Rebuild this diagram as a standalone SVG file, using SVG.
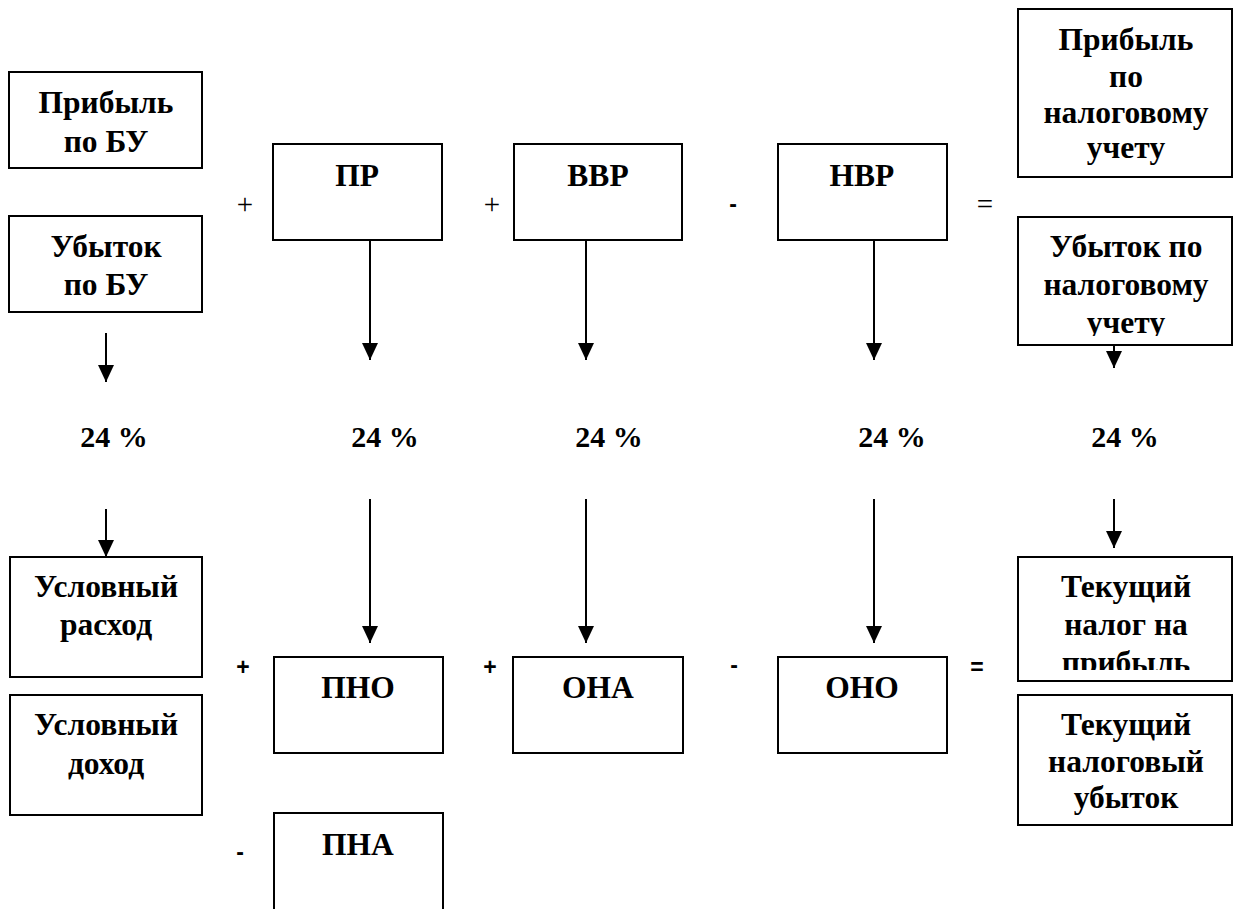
<svg xmlns="http://www.w3.org/2000/svg" width="1234" height="909" viewBox="0 0 1234 909">
<style>
.box{fill:#fff;stroke:#000;stroke-width:2}
.t{font-family:'Liberation Serif','Times New Roman','DejaVu Serif',serif;font-weight:700;font-size:31.5px;text-anchor:middle;fill:#000}
.p{font-size:30px}
.op{font-family:'Liberation Serif','Times New Roman','DejaVu Serif',serif;font-size:29px;text-anchor:middle;fill:#000}
.ops{font-family:'Liberation Sans',Arial,sans-serif;font-weight:700;font-size:23px;text-anchor:middle;fill:#000}
.c{stroke:#000;stroke-width:2;fill:none;marker-end:url(#ah)}
</style>
<defs>
<marker id="ah" markerUnits="userSpaceOnUse" markerWidth="17" markerHeight="16" refX="17" refY="8" orient="auto" viewBox="0 0 17 16">
<path d="M0,0 L17,8 L0,16 Z" fill="#000"/>
</marker>
<clipPath id="clipU"><rect x="1018" y="217" width="214" height="119"/></clipPath>
<clipPath id="clipT"><rect x="1018" y="557" width="214" height="113"/></clipPath>
</defs>
<rect width="1234" height="909" fill="#fff"/>

<g id="pribyl-bu"><rect class="box" x="9" y="72" width="193" height="96"/><text class="t" x="106" y="113">Прибыль</text><text class="t" x="106" y="152">по БУ</text></g>
<g id="ubytok-bu"><rect class="box" x="9" y="216" width="193" height="96"/><text class="t" x="106" y="257">Убыток</text><text class="t" x="106" y="295">по БУ</text></g>
<g id="pr"><rect class="box" x="273" y="144" width="169" height="96"/><text class="t" x="357" y="186">ПР</text></g>
<g id="vvr"><rect class="box" x="514" y="144" width="168" height="96"/><text class="t" x="598" y="186">ВВР</text></g>
<g id="nvr"><rect class="box" x="778" y="144" width="169" height="96"/><text class="t" x="862" y="186">НВР</text></g>
<g id="pribyl-nu"><rect class="box" x="1018" y="9" width="214" height="168"/><text class="t" x="1126" y="50">Прибыль</text><text class="t" x="1126" y="87">по</text><text class="t" x="1126" y="123">налоговому</text><text class="t" x="1126" y="158">учету</text></g>
<g id="ubytok-nu"><rect class="box" x="1018" y="217" width="214" height="128"/><g clip-path="url(#clipU)"><text class="t" x="1126" y="257">Убыток по</text><text class="t" x="1126" y="295">налоговому</text><text class="t" x="1126" y="333">учету</text></g></g>

<g id="ops-top"><text class="op" x="245" y="214">+</text><text class="op" x="492" y="214">+</text><text class="ops" x="733" y="212">-</text><text class="op" x="985" y="214">=</text></g>

<g id="rates"><text class="t p" x="114" y="447">24 %</text><text class="t p" x="385" y="447">24 %</text><text class="t p" x="609" y="447">24 %</text><text class="t p" x="892" y="447">24 %</text><text class="t p" x="1125" y="447">24 %</text></g>

<g id="usl-rashod"><rect class="box" x="10" y="557" width="192" height="120"/><text class="t" x="106" y="597">Условный</text><text class="t" x="106" y="635">расход</text></g>
<g id="usl-dohod"><rect class="box" x="10" y="695" width="192" height="120"/><text class="t" x="106" y="735">Условный</text><text class="t" x="106" y="774">доход</text></g>
<g id="pno"><rect class="box" x="274" y="657" width="169" height="96"/><text class="t" x="358" y="698">ПНО</text></g>
<g id="ona"><rect class="box" x="513" y="657" width="170" height="96"/><text class="t" x="598" y="698">ОНА</text></g>
<g id="ono"><rect class="box" x="778" y="657" width="169" height="96"/><text class="t" x="862" y="698">ОНО</text></g>
<g id="pna"><rect class="box" x="274" y="813" width="169" height="110"/><text class="t" x="358" y="855">ПНА</text></g>
<g id="tek-nalog"><rect class="box" x="1018" y="557" width="214" height="124"/><g clip-path="url(#clipT)"><text class="t" x="1126" y="597">Текущий</text><text class="t" x="1126" y="635">налог на</text><text class="t" x="1126" y="673">прибыль</text></g></g>
<g id="tek-ubytok"><rect class="box" x="1018" y="695" width="214" height="130"/><text class="t" x="1126" y="735">Текущий</text><text class="t" x="1126" y="772">налоговый</text><text class="t" x="1126" y="808">убыток</text></g>

<g id="ops-bottom"><text class="ops" x="243" y="675">+</text><text class="ops" x="490" y="675">+</text><text class="ops" x="734" y="673">-</text><text class="ops" x="977" y="675">=</text><text class="ops" x="240" y="860">-</text></g>

<g id="connectors">
<line class="c" x1="106" y1="333" x2="106" y2="382"/>
<line class="c" x1="370" y1="240" x2="370" y2="360"/>
<line class="c" x1="586" y1="240" x2="586" y2="360"/>
<line class="c" x1="874" y1="240" x2="874" y2="360"/>
<line class="c" x1="1114" y1="345" x2="1114" y2="368"/>
<line class="c" x1="106" y1="509" x2="106" y2="557"/>
<line class="c" x1="370" y1="499" x2="370" y2="643"/>
<line class="c" x1="586" y1="499" x2="586" y2="643"/>
<line class="c" x1="874" y1="499" x2="874" y2="643"/>
<line class="c" x1="1114" y1="499" x2="1114" y2="548"/>
</g>
</svg>
